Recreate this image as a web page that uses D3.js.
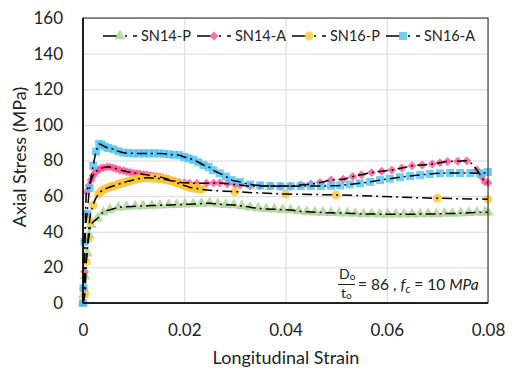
<!DOCTYPE html>
<html>
<head>
<meta charset="utf-8">
<script src="https://cdn.jsdelivr.net/npm/d3@7"></script>
<style>
  body { margin: 0; background: #fff; }
  svg { display: block; }
  text { font-family: Lato, "Open Sans", sans-serif; fill: #222; }
</style>
</head>
<body>
<svg id="chart" width="514" height="371"></svg>
<script>
// ---------- data (strain, stress MPa) ----------
const seriesNames = ["SN14-P", "SN14-A", "SN16-P", "SN16-A"];
const seriesColors = ["#A9D18E", "#FF4F92", "#FFC530", "#4DC3F2"];

const sn14P = [[0,0],[0.0001,4.5],[0.0004,15],[0.0008,28],[0.0012,38],[0.0016,44],[0.0029,47.6],[0.004,51],[0.0053,52.3],[0.007,53.6],[0.0086,54.1],[0.0103,54.3],[0.0119,54.5],[0.0136,54.7],[0.0152,54.9],[0.0169,55],[0.0185,55.2],[0.0201,55.4],[0.0218,55.6],[0.0234,55.8],[0.025,56],[0.0266,55.6],[0.0282,55.2],[0.0298,55],[0.0314,54.5],[0.033,53.8],[0.0346,53.2],[0.0362,52.8],[0.0378,52.6],[0.0394,52.4],[0.041,52.2],[0.0426,51.6],[0.0442,51.2],[0.0458,51],[0.0474,50.8],[0.049,50.6],[0.0506,50.5],[0.0522,50.4],[0.0538,50.2],[0.0554,50],[0.057,50],[0.0586,49.8],[0.0602,49.8],[0.0618,49.8],[0.0634,49.8],[0.065,49.8],[0.0666,50],[0.0682,50],[0.0698,50],[0.0714,50.2],[0.073,50.2],[0.0746,50.4],[0.0762,50.6],[0.0778,50.8],[0.0794,51],[0.08,51]];

const sn14A = [[0,0],[0.0001,8],[0.0003,17.6],[0.0004,35],[0.0005,50],[0.0007,62.5],[0.0012,66],[0.0016,69],[0.002,71.5],[0.0025,73.5],[0.003,74.7],[0.0035,75.5],[0.004,76],[0.0047,76.4],[0.0053,76.3],[0.006,76],[0.0066,75.3],[0.0073,74.7],[0.008,74.2],[0.0086,73.8],[0.0093,73.4],[0.01,73],[0.0107,72.7],[0.0113,72.4],[0.012,72.2],[0.0126,72],[0.0133,71.6],[0.014,71.2],[0.0146,71],[0.0152,70.8],[0.0158,70.3],[0.0165,69.8],[0.017,69.3],[0.0176,68.8],[0.0182,68.3],[0.019,67.8],[0.02,67.5],[0.021,67.3],[0.0225,67.2],[0.0244,67.2],[0.0258,67.3],[0.027,67.4],[0.0285,67],[0.03,66.5],[0.031,66.3],[0.033,65.7],[0.035,65.7],[0.037,65.7],[0.039,65.7],[0.041,65.7],[0.043,66.3],[0.045,66.8],[0.0468,67.6],[0.049,69],[0.0514,69.5],[0.0533,71],[0.055,72],[0.057,73.2],[0.059,74],[0.061,74.7],[0.063,75.8],[0.065,77],[0.067,77.5],[0.069,78],[0.0705,78.8],[0.072,79.4],[0.074,79.6],[0.0758,79.8],[0.0778,74.7],[0.0787,71],[0.0794,68],[0.08,67.5]];

const sn16P = [[0,0],[0.0004,5.6],[0.00065,23.2],[0.001,36],[0.0013,46.2],[0.002,55],[0.003,61],[0.0035,62.5],[0.004,63.5],[0.0045,64.2],[0.005,64.8],[0.0055,65.3],[0.006,65.7],[0.0065,66.2],[0.007,66.7],[0.0075,67.1],[0.008,67.5],[0.0085,68],[0.009,68.4],[0.0095,68.8],[0.01,69.1],[0.0105,69.5],[0.011,69.8],[0.0115,70],[0.012,70.2],[0.0125,70.3],[0.013,70.3],[0.0135,70.2],[0.014,70.1],[0.0145,70],[0.015,69.9],[0.0155,69.7],[0.016,69.5],[0.0165,69.2],[0.017,68.9],[0.0175,68.6],[0.018,68.2],[0.0185,67.6],[0.019,67],[0.0195,66.5],[0.02,66],[0.0205,65.5],[0.021,65],[0.0215,64.7],[0.022,64.5],[0.0225,64.3],[0.023,64],[0.0235,63.8],[0.03,62.5],[0.04,61.2],[0.05,60.7],[0.07,58.8],[0.08,58.3]];

const sn16A = [[0,0],[0.0001,8.4],[0.0003,34.4],[0.0008,50],[0.0013,64.4],[0.002,77],[0.0026,85],[0.0032,89.3],[0.0037,88.8],[0.0043,87.8],[0.005,87],[0.006,86.3],[0.007,85.2],[0.008,84.4],[0.009,84.2],[0.01,84],[0.011,84],[0.012,84],[0.013,84],[0.014,84],[0.015,84],[0.016,83.8],[0.017,83.5],[0.018,83.2],[0.019,83],[0.02,82],[0.0209,81.2],[0.0218,80.3],[0.0228,79],[0.0238,77.5],[0.0248,76.4],[0.0257,74.5],[0.027,72.8],[0.0282,71],[0.0294,69],[0.031,68],[0.033,66.5],[0.035,66],[0.037,65.7],[0.039,65.5],[0.041,65.5],[0.043,65.7],[0.045,65.7],[0.047,65.7],[0.049,65.8],[0.0508,66],[0.0527,66.6],[0.0547,67.2],[0.0567,68],[0.0587,69],[0.0606,69.8],[0.0626,70.6],[0.0646,71.3],[0.0666,71.9],[0.0685,72.4],[0.0705,72.8],[0.0725,73],[0.0745,73],[0.0765,73],[0.0784,72.8],[0.08,73.5]];

const allSeries = [sn14P, sn14A, sn16P, sn16A];
const xTicks = [0, 0.02, 0.04, 0.06, 0.08];
const yTicks = [0, 20, 40, 60, 80, 100, 120, 140, 160];

// ---------- layout ----------
const svg = d3.select("#chart");
const L = 83, R = 488, T = 18, B = 303;
const x = d3.scaleLinear().domain([0, 0.08]).range([L, R]);
const y = d3.scaleLinear().domain([0, 160]).range([B, T]);

// gridlines
svg.append("g").attr("transform", `translate(0,${B})`)
  .call(d3.axisBottom(x).tickValues(xTicks).tickSize(-(B - T)).tickFormat(""))
  .call(g => g.select(".domain").remove())
  .call(g => g.selectAll("line").attr("stroke", "#D9D9D9").attr("stroke-width", 1));
svg.append("g").attr("transform", `translate(${L},0)`)
  .call(d3.axisLeft(y).tickValues(yTicks).tickSize(-(R - L)).tickFormat(""))
  .call(g => g.select(".domain").remove())
  .call(g => g.selectAll("line").attr("stroke", "#D9D9D9").attr("stroke-width", 1));

// tick labels
svg.append("g").attr("transform", `translate(${L},0)`)
  .call(d3.axisLeft(y).tickValues(yTicks).tickSize(0).tickPadding(20).tickFormat(d3.format("d")))
  .call(g => g.select(".domain").remove())
  .call(g => g.selectAll("text").style("font-family", "Lato, sans-serif").attr("font-size", 17).attr("fill", "#222"));
svg.append("g").attr("transform", `translate(0,${B})`)
  .call(d3.axisBottom(x).tickValues(xTicks).tickSize(0).tickPadding(21).tickFormat(d => d === 0 ? "0" : d3.format(".2f")(d)))
  .call(g => g.select(".domain").remove())
  .call(g => g.selectAll("text").style("font-family", "Lato, sans-serif").attr("font-size", 17).attr("fill", "#222"));

// axis titles
svg.append("text").attr("x", (L + R) / 2 + 0.5).attr("y", 364).attr("text-anchor", "middle")
  .attr("font-size", 18).text("Longitudinal Strain");
svg.append("text").attr("transform", "translate(26,157) rotate(-90)").attr("text-anchor", "middle")
  .attr("font-size", 18).text("Axial Stress (MPa)");

// markers
const symbolTypes = [d3.symbolTriangle, d3.symbolSquare, d3.symbolCircle, d3.symbolSquare];
const symbolSizes = [55, 40, 62, 64];
const symbolRot = [0, 45, 0, 0];
function drawMarker(g, i, px, py) {
  g.append("path")
    .attr("d", d3.symbol().type(symbolTypes[i]).size(symbolSizes[i])())
    .attr("transform", `translate(${px},${py}) rotate(${symbolRot[i]})`)
    .attr("fill", seriesColors[i]).attr("fill-opacity", 0.8);
}
const markerG = svg.append("g");
allSeries.forEach((data, i) => {
  let pts = data;
  if (i === 2) pts = data.filter(d => d[0] > 0.0002);
  pts.forEach(d => drawMarker(markerG, i, x(d[0]), y(d[1])));
});

// black dash-dot lines
const line = d3.line().x(d => x(d[0])).y(d => y(d[1])).curve(d3.curveMonotoneX);
allSeries.forEach(data => {
  svg.append("path").datum(data).attr("d", line)
    .attr("fill", "none").attr("stroke", "#000").attr("stroke-width", 1.5)
    .attr("stroke-dasharray", "10,4,2,4");
});

// plot frame
svg.append("rect").attr("x", L).attr("y", T).attr("width", R - L).attr("height", B - T)
  .attr("fill", "none").attr("stroke", "#222").attr("stroke-width", 1);
svg.append("line").attr("x1", L).attr("x2", L).attr("y1", T).attr("y2", B).attr("stroke", "#000").attr("stroke-width", 1.5);
svg.append("line").attr("x1", L).attr("x2", R).attr("y1", B).attr("y2", B).attr("stroke", "#000").attr("stroke-width", 1.5);

// legend
const legendX = [103, 197, 292, 386];
const legend = svg.append("g");
seriesNames.forEach((name, i) => {
  const lx = legendX[i], ly = 36;
  legend.append("line").attr("x1", lx).attr("x2", lx + 34).attr("y1", ly).attr("y2", ly)
    .attr("stroke", "#000").attr("stroke-width", 1.5).attr("stroke-dasharray", "14,8,2,6,4");
  drawMarker(legend, i, lx + 17, ly);
  legend.append("text").attr("x", lx + 38).attr("y", ly + 5).attr("font-size", 14.5).text(name);
});

// annotation
const ann = svg.append("g").style("font-family", "'Liberation Serif', 'DejaVu Serif', serif");
const num = ann.append("text").attr("x", 339).attr("y", 279).attr("font-size", 14);
num.append("tspan").text("D");
num.append("tspan").attr("font-size", 10).attr("dy", 1).text("o");
ann.append("line").attr("x1", 338).attr("x2", 355).attr("y1", 284.5).attr("y2", 284.5).attr("stroke", "#222").attr("stroke-width", 1);
const den = ann.append("text").attr("x", 341).attr("y", 298).attr("font-size", 14);
den.append("tspan").text("t");
den.append("tspan").attr("font-size", 10).attr("dy", 1).text("o");
const eq = ann.append("text").attr("x", 358).attr("y", 290).attr("font-size", 15.5);
eq.append("tspan").text("= 86 , ");
eq.append("tspan").attr("font-style", "italic").text("f");
eq.append("tspan").attr("font-style", "italic").attr("font-size", 11).attr("dy", 3).text("c");
eq.append("tspan").attr("dy", -3).text(" = 10 ");
eq.append("tspan").attr("font-style", "italic").text("MPa");
</script>
</body>
</html>
